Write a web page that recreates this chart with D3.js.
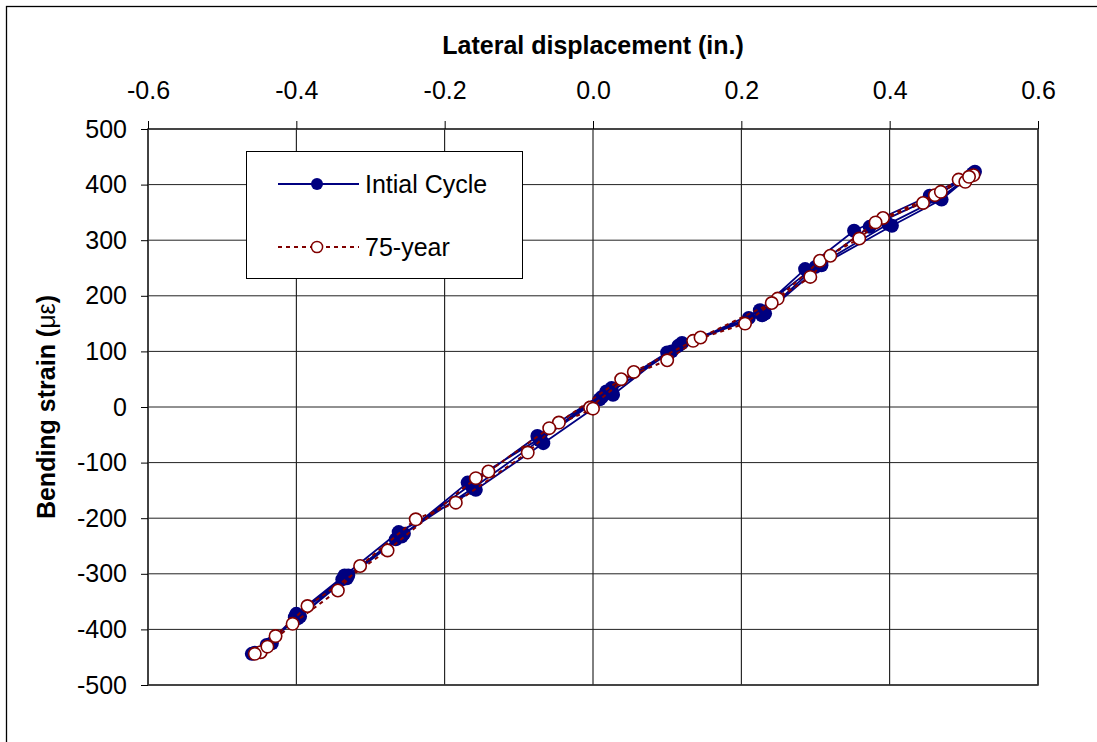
<!DOCTYPE html>
<html>
<head>
<meta charset="utf-8">
<script src="https://cdn.jsdelivr.net/npm/d3@7"></script>
<style>
  body { margin: 0; background: #fff; }
  svg { display: block; font-family: Arial, "Liberation Sans", sans-serif; }
</style>
</head>
<body>
<div id="chart"></div>
<script>
// Initial cycle: displacement (in.) and bending strain, in test order
const initialDisp = [0.009, 0.106, 0.225, 0.286, 0.352, 0.454, 0.515, 0.470, 0.403, 0.308, 0.232, 0.120, 0.025,
  -0.071, -0.169, -0.258, -0.332, -0.395, -0.456, -0.433, -0.400, -0.335, -0.262, -0.158, -0.067, 0.027,
  0.100, 0.210, 0.290, 0.373, 0.460, 0.512, 0.468, 0.398, 0.300, 0.228, 0.115, 0.018, -0.075, -0.165,
  -0.255, -0.330, -0.398, -0.460, -0.440, -0.402, -0.338, -0.266, -0.162, -0.072, 0.012];
const initialStrain = [14, 100, 174, 248, 317, 380, 423, 373, 326, 255, 168, 115, 34,
  -56, -136, -233, -308, -377, -442, -425, -372, -303, -225, -149, -65, 22,
  98, 160, 243, 324, 378, 420, 376, 329, 252, 165, 110, 28, -52, -140,
  -228, -303, -380, -444, -428, -378, -310, -238, -146, -60, 18];

// 75-year cycle
const yearDisp = [-0.004, 0.055, 0.135, 0.205, 0.249, 0.306, 0.359, 0.391, 0.461, 0.493, 0.502, 0.513,
  0.507, 0.469, 0.445, 0.381, 0.320, 0.293, 0.241, 0.145, 0.100, 0.038, -0.046, -0.088, -0.185, -0.239,
  -0.314, -0.344, -0.405, -0.448, -0.456, -0.439, -0.428, -0.385, -0.277, -0.158, -0.141, -0.059, 0.000];
const yearStrain = [-1, 63, 119, 150, 195, 263, 303, 340, 381, 409, 405, 417,
  414, 387, 367, 332, 272, 234, 187, 125, 84, 50, -28, -82, -172, -202,
  -286, -330, -390, -441, -444, -431, -412, -358, -258, -128, -116, -38, -3];

const xTicks = [-0.6, -0.4, -0.2, 0.0, 0.2, 0.4, 0.6];
const yTicks = [500, 400, 300, 200, 100, 0, -100, -200, -300, -400, -500];
const seriesNames = ["Intial Cycle", "75-year"];

const W = 1097, H = 742;
const plot = { left: 148, right: 1038, top: 129, bottom: 685 };

const svg = d3.select("#chart").append("svg")
  .attr("width", W).attr("height", H);

svg.append("rect").attr("x", 0).attr("y", 0).attr("width", W).attr("height", H).attr("fill", "#fff");
// outer chart border (runs off the right/bottom edge)
svg.append("rect")
  .attr("x", 6.5).attr("y", 6.5).attr("width", W + 10).attr("height", H + 10)
  .attr("fill", "none").attr("stroke", "#000").attr("stroke-width", 1.3);

const x = d3.scaleLinear().domain([-0.6, 0.6]).range([plot.left, plot.right]);
const y = d3.scaleLinear().domain([-500, 500]).range([plot.bottom, plot.top]);

// gridlines
svg.append("g").selectAll("line").data(xTicks).enter().append("line")
  .attr("x1", d => x(d)).attr("x2", d => x(d))
  .attr("y1", plot.top).attr("y2", plot.bottom)
  .attr("stroke", "#000").attr("stroke-width", 1);
svg.append("g").selectAll("line").data(yTicks).enter().append("line")
  .attr("x1", plot.left).attr("x2", plot.right)
  .attr("y1", d => y(d)).attr("y2", d => y(d))
  .attr("stroke", "#222").attr("stroke-width", 1);

svg.append("rect")
  .attr("x", plot.left).attr("y", plot.top)
  .attr("width", plot.right - plot.left).attr("height", plot.bottom - plot.top)
  .attr("fill", "none").attr("stroke", "#333").attr("stroke-width", 1.6);

// axes
const xAxis = svg.append("g")
  .attr("transform", "translate(0," + plot.top + ")")
  .call(d3.axisTop(x).tickValues(xTicks).tickFormat(d3.format(".1f")).tickSize(8).tickPadding(22));
const yAxis = svg.append("g")
  .attr("transform", "translate(" + plot.left + ",0)")
  .call(d3.axisLeft(y).tickValues(yTicks).tickFormat(d3.format("d")).tickSize(7).tickPadding(14));
[xAxis, yAxis].forEach(g => {
  g.select(".domain").remove();
  g.selectAll("line").attr("stroke", "#000");
  g.selectAll("text").attr("font-family", "Arial, 'Liberation Sans', sans-serif")
    .attr("font-size", 25).attr("fill", "#000");
});
xAxis.selectAll("text").text(d => d3.format(".1f")(d).replace("−", "-"));
yAxis.selectAll("text").text(d => String(d));

// titles
svg.append("text")
  .attr("x", 593).attr("y", 54)
  .attr("text-anchor", "middle")
  .attr("font-size", 25).attr("font-weight", "bold")
  .text("Lateral displacement (in.)");

const yTitle = svg.append("text")
  .attr("transform", "translate(55,407) rotate(-90)")
  .attr("text-anchor", "middle")
  .attr("font-size", 25).attr("font-weight", "bold");
yTitle.append("tspan").text("Bending strain (");
yTitle.append("tspan").attr("font-weight", "normal").text("με");
yTitle.append("tspan").text(")");

// series
const initialPts = initialDisp.map((d, i) => [d, initialStrain[i]]);
const yearPts = yearDisp.map((d, i) => [d, yearStrain[i]]);
const line = d3.line().x(d => x(d[0])).y(d => y(d[1]));

svg.append("path").datum(initialPts)
  .attr("d", line).attr("fill", "none")
  .attr("stroke", "#000080").attr("stroke-width", 1.8);
svg.append("g").selectAll("circle").data(initialPts).enter().append("circle")
  .attr("cx", d => x(d[0])).attr("cy", d => y(d[1])).attr("r", 7)
  .attr("fill", "#000080");

svg.append("path").datum(yearPts)
  .attr("d", line).attr("fill", "none")
  .attr("stroke", "#800000").attr("stroke-width", 2).attr("stroke-dasharray", "4,4");
svg.append("g").selectAll("circle").data(yearPts).enter().append("circle")
  .attr("cx", d => x(d[0])).attr("cy", d => y(d[1])).attr("r", 6.2)
  .attr("fill", "#fff").attr("stroke", "#800000").attr("stroke-width", 1.6);

// legend
const lg = svg.append("g");
lg.append("rect").attr("x", 246.5).attr("y", 151.5).attr("width", 276).attr("height", 127)
  .attr("fill", "#fff").attr("stroke", "#000").attr("stroke-width", 1);
const rows = [184, 247];
lg.append("line").attr("x1", 278).attr("x2", 359).attr("y1", rows[0]).attr("y2", rows[0])
  .attr("stroke", "#000080").attr("stroke-width", 2);
lg.append("circle").attr("cx", 317).attr("cy", rows[0]).attr("r", 6).attr("fill", "#000080");
lg.append("line").attr("x1", 278).attr("x2", 359).attr("y1", rows[1]).attr("y2", rows[1])
  .attr("stroke", "#800000").attr("stroke-width", 2).attr("stroke-dasharray", "4,4");
lg.append("circle").attr("cx", 317).attr("cy", rows[1]).attr("r", 5.6)
  .attr("fill", "#fff").attr("stroke", "#800000").attr("stroke-width", 1.5);
lg.selectAll("text.lab").data(seriesNames).enter().append("text")
  .attr("x", 365).attr("y", (d, i) => rows[i] + 9)
  .attr("font-size", 25).attr("fill", "#000")
  .text(d => d);
</script>
</body>
</html>
